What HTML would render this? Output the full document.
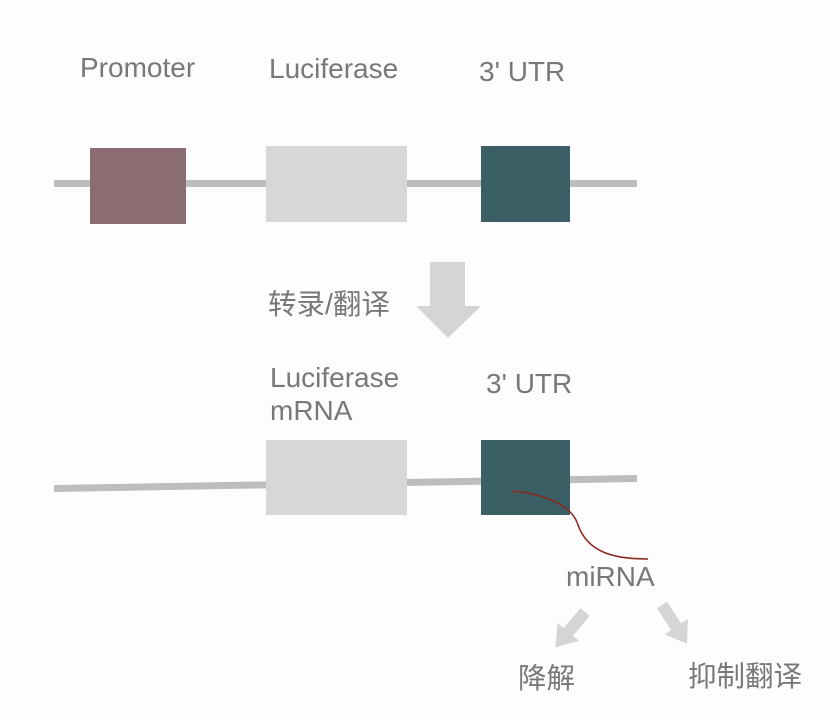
<!DOCTYPE html>
<html><head><meta charset="utf-8"><style>
html,body{margin:0;padding:0;background:#fdfdfd;}
svg{display:block}
text{font-family:"Liberation Sans","Noto Sans CJK SC",sans-serif;fill:#787878;font-size:28px}
text.c{font-size:28.5px}
</style></head><body>
<svg width="834" height="716" viewBox="0 0 834 716">
<rect width="834" height="716" fill="#fdfdfd"/>
<text x="80" y="77">Promoter</text>
<text x="269" y="78">Luciferase</text>
<text x="479" y="81">3' UTR</text>
<rect x="54" y="180" width="583" height="7" fill="#bdbdbb"/>
<rect x="90" y="148" width="96" height="76" fill="#8a6c72"/>
<rect x="266" y="146" width="141" height="76" fill="#d6d8d6"/>
<rect x="481" y="146" width="89" height="76" fill="#3a5f65"/>
<polygon points="430,262 465,262 465,306 481,306 448,338 416,306 430,306" fill="#d5d6d4"/>
<text class="c" x="268" y="314">转录/翻译</text>
<text x="270" y="387">Luciferase</text>
<text x="270" y="420">mRNA</text>
<text x="486" y="393">3' UTR</text>
<polygon points="54,485 637,475 637,482 54,492" fill="#bdbdbb"/>
<rect x="266" y="440" width="141" height="75" fill="#d6d8d6"/>
<rect x="481" y="440" width="89" height="75" fill="#3a5f65"/>
<path d="M512,491 C545,494 572,505 578,525 C588,553 615,559 648,559" fill="none" stroke="#8b2a20" stroke-width="1.6"/>
<text x="566" y="586">miRNA</text>
<g transform="translate(585,612) rotate(40)"><polygon points="-6,0 6,0 6,26 14,26 0,46 -14,26 -6,26" fill="#d5d6d4"/></g>
<g transform="translate(662,605) rotate(-33)"><polygon points="-6,0 6,0 6,26 14,26 0,46 -14,26 -6,26" fill="#d5d6d4"/></g>
<text class="c" x="518" y="688">降解</text>
<text class="c" x="688" y="686">抑制翻译</text>
</svg>
</body></html>
